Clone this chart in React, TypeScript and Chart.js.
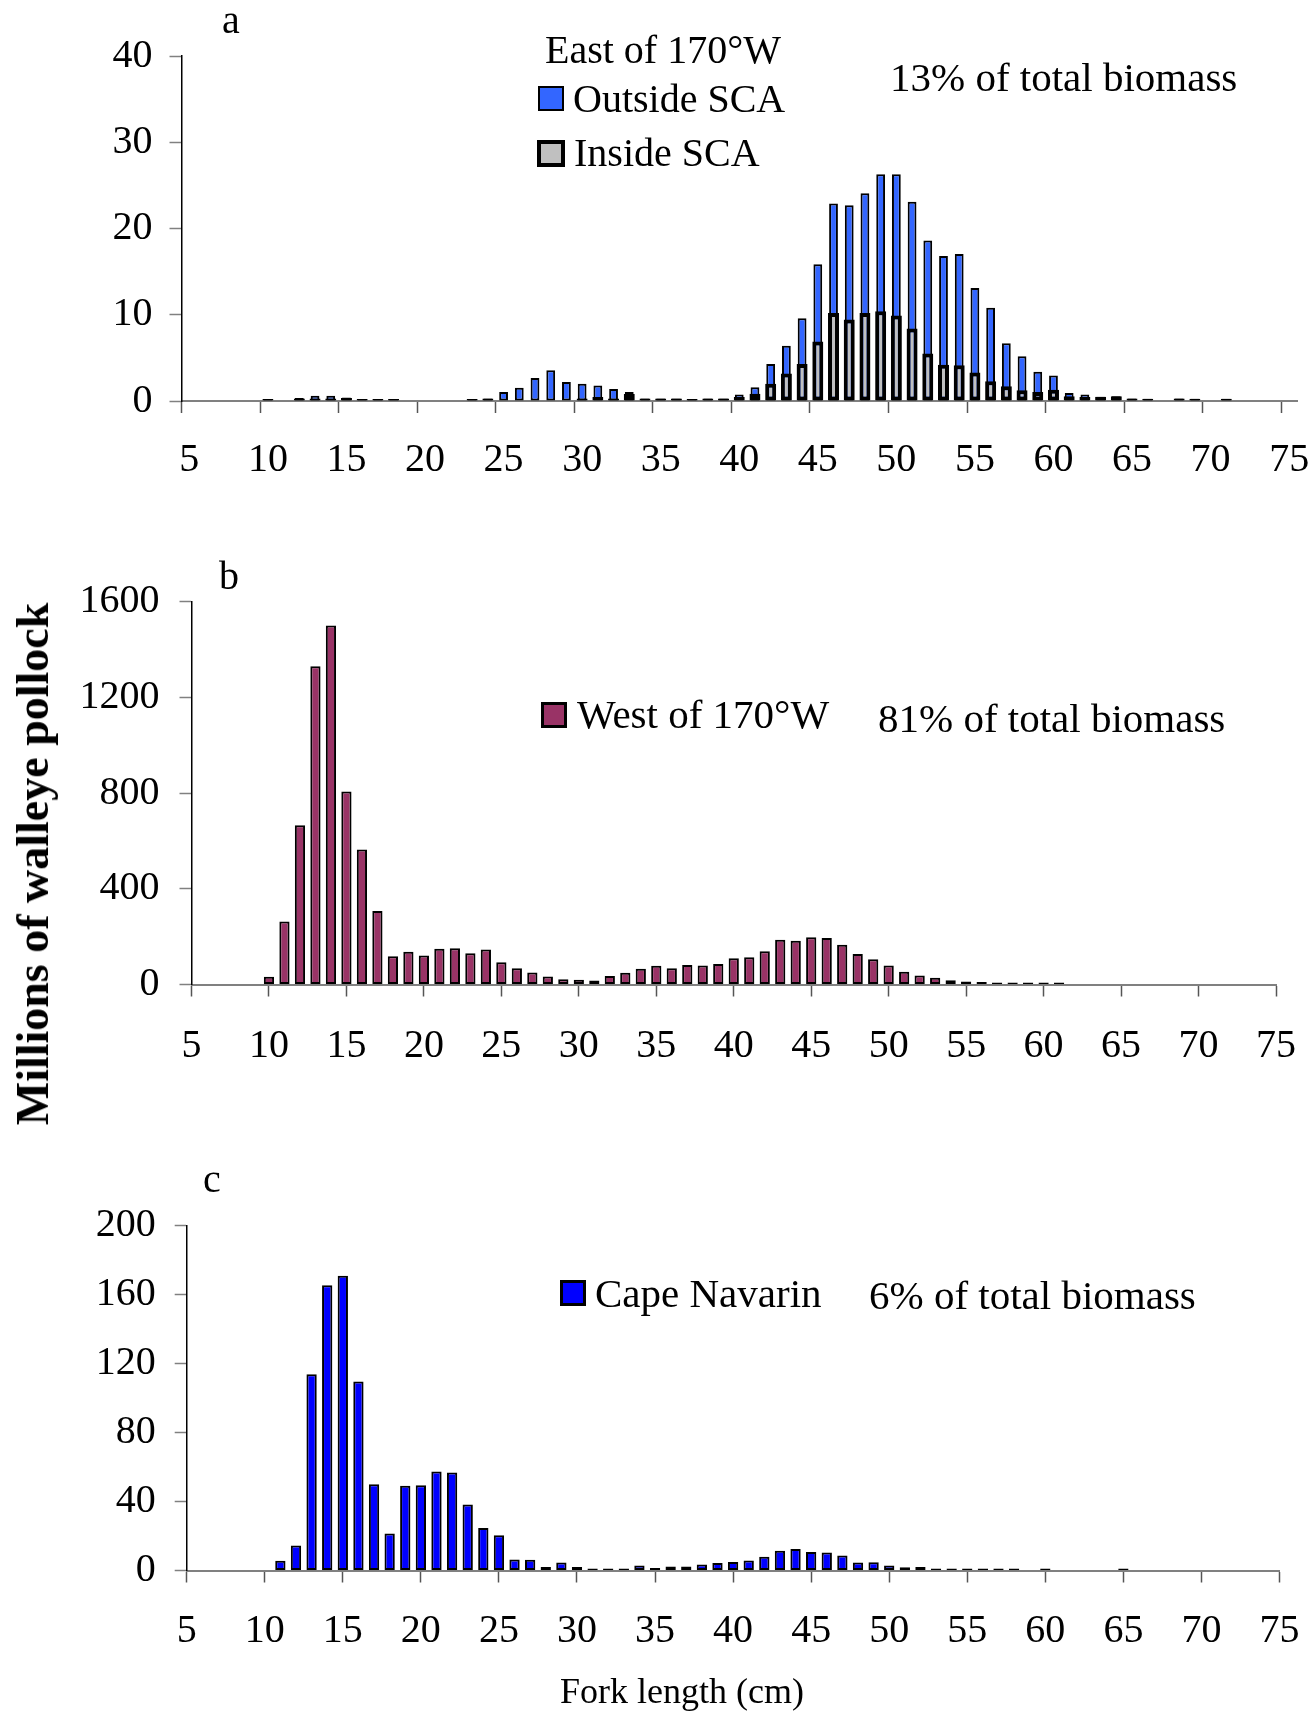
import React, { useEffect, useRef } from 'react';
import { Chart, registerables } from 'chart.js';

Chart.register(...registerables);

const FONT = "'Liberation Serif', 'Times New Roman', Times, serif";

// Fork length categories (cm) shown on every x axis
const xCategories = [
  5, 6, 7, 8, 9, 10, 11, 12, 13, 14, 15, 16, 17, 18, 19, 20, 21, 22, 23, 24, 25,
  26, 27, 28, 29, 30, 31, 32, 33, 34, 35, 36, 37, 38, 39, 40, 41, 42, 43, 44, 45,
  46, 47, 48, 49, 50, 51, 52, 53, 54, 55, 56, 57, 58, 59, 60, 61, 62, 63, 64, 65,
  66, 67, 68, 69, 70, 71, 72, 73, 74, 75,
];

// Panel a: East of 170°W
const aLengths = [
  10, 12, 13, 14, 15, 16, 17, 18, 23, 24, 25, 26, 27, 28, 29, 30, 31, 32, 33, 34, 35,
  36, 37, 38, 39, 40, 41, 42, 43, 44, 45, 46, 47, 48, 49, 50, 51, 52, 53, 54, 55, 56,
  57, 58, 59, 60, 61, 62, 63, 64, 65, 66, 68, 69, 71,
];
const aOutside = [
  0.15, 0.35, 0.6, 0.6, 0.4, 0.2, 0.15, 0.15, 0.15, 0.3, 1.05, 1.55, 2.67, 3.57, 2.2, 2.0, 1.8, 1.4, 1.05, 0.3, 0.3,
  0.3, 0.2, 0.3, 0.3, 0.75, 1.6, 4.3, 6.4, 9.6, 15.85, 22.9, 22.7, 24.1, 26.3, 26.3, 23.1, 18.6, 16.8, 17.05, 13.1, 10.8,
  6.7, 5.2, 3.4, 2.95, 0.93, 0.75, 0.5, 0.55, 0.3, 0.25, 0.3, 0.25, 0.25,
];
const aInside = [
  0.15, 0.3, 0.3, 0.3, 0.35, 0.2, 0.15, 0.15, 0.15, 0.3, null, null, null, null, null, 0.3, 0.45, 0.3, 0.8, 0.3, 0.3,
  0.3, 0.2, 0.3, 0.3, 0.45, 0.85, 2.0, 3.2, 4.3, 6.9, 10.2, 9.46, 10.2, 10.4, 9.9, 8.4, 5.5, 4.2, 4.15, 3.3, 2.3,
  1.7, 1.25, 1.05, 1.3, 0.55, 0.45, 0.5, 0.55, 0.3, 0.25, 0.3, 0.25, 0.25,
];

// Panel b: West of 170°W
const bLengths = [
  10, 11, 12, 13, 14, 15, 16, 17, 18, 19, 20, 21, 22, 23, 24, 25, 26, 27, 28, 29, 30,
  31, 32, 33, 34, 35, 36, 37, 38, 39, 40, 41, 42, 43, 44, 45, 46, 47, 48, 49, 50, 51,
  52, 53, 54, 55, 56, 57, 58, 59, 60, 61,
];
const bWest = [
  32, 263, 665, 1330, 1500, 806, 564, 307, 118, 137, 121, 149, 151, 131, 146, 93, 68, 50, 33, 22, 20,
  17, 36, 49, 66, 78, 68, 81, 79, 86, 110, 114, 139, 187, 183, 197, 194, 166, 127, 106, 79, 53,
  38, 28, 18, 13, 10, 8, 6, 5, 4, 3,
];

// Panel c: Cape Navarin
const cLengths = [
  11, 12, 13, 14, 15, 16, 17, 18, 19, 20, 21, 22, 23, 24, 25, 26, 27, 28, 29, 30, 31,
  32, 33, 34, 35, 36, 37, 38, 39, 40, 41, 42, 43, 44, 45, 46, 47, 48, 49, 50, 51, 52,
  53, 54, 55, 56, 57, 58, 60, 65,
];
const cNavarin = [
  5.6, 14.5, 113.8, 165.4, 171, 109.7, 50.1, 21.5, 49.1, 49.5, 57.4, 56.9, 38.3, 24.6, 20.5, 6.4, 6.2, 2.1, 4.6, 2.1, 0.6,
  0.6, 1.0, 2.9, 1.5, 2.3, 2.3, 3.5, 4.3, 5.0, 5.8, 8.0, 11.4, 12.4, 10.8, 10.4, 8.7, 4.6, 4.8, 2.9, 1.9, 2.1,
  1.2, 0.8, 0.4, 0.3, 0.3, 0.3, 0.2, 0.2,
];

// y-axis ranges / steps
const aYAxis = { min: 0, max: 40, step: 10 };
const bYAxis = { min: 0, max: 1600, step: 400 };
const cYAxis = { min: 0, max: 200, step: 40 };

const toPoints = (lengths: number[], values: (number | null)[]) =>
  lengths
    .map((l, i) => ({ x: String(l), y: values[i] }))
    .filter((p) => p.y !== null && p.y !== undefined);

type Geo = {
  canvasTop: number;
  canvasH: number;
  left: number;
  right: number;
  top: number;
  bottom: number;
  yPad: number;
  xPad: number;
};

function buildOptions(geo: Geo, yAxis: { min: number; max: number; step: number }, offset: boolean) {
  const tickFont = { family: FONT, size: 40 };
  return {
    responsive: false,
    animation: false as const,
    devicePixelRatio: 1,
    events: [],
    layout: {
      padding: {
        top: geo.top - geo.canvasTop,
        left: 0,
        right: 1313 - geo.right,
        bottom: 0,
      },
    },
    plugins: { legend: { display: false }, tooltip: { enabled: false } },
    scales: {
      x: {
        type: 'category',
        labels: xCategories.map(String),
        offset,
        grid: {
          display: true,
          drawOnChartArea: false,
          drawTicks: true,
          tickLength: 12,
          offset,
          tickWidth: 1.5,
          tickColor: (ctx: any) =>
            ctx.index !== undefined && ctx.index % 5 === 0 ? '#555555' : 'rgba(0,0,0,0)',
        },
        border: { display: true, color: '#808080', width: 2 },
        ticks: {
          autoSkip: false,
          maxRotation: 0,
          minRotation: 0,
          padding: geo.xPad,
          color: '#000000',
          font: tickFont,
          callback: (_v: any, index: number) => {
            const lab = xCategories[index];
            return lab % 5 === 0 ? String(lab) : '';
          },
        },
        afterFit: (s: any) => {
          s.height = geo.canvasH - (geo.bottom - geo.canvasTop);
          s.paddingLeft = 0;
          s.paddingRight = 0;
        },
      },
      y: {
        type: 'linear',
        min: yAxis.min,
        max: yAxis.max,
        ticks: {
          stepSize: yAxis.step,
          padding: geo.yPad,
          color: '#000000',
          font: tickFont,
          callback: (v: any) => String(v),
        },
        grid: {
          display: true,
          drawOnChartArea: false,
          drawTicks: true,
          tickLength: 12,
          tickColor: '#808080',
          tickWidth: 1.5,
        },
        border: { display: true, color: '#000000', width: 1.5 },
        afterFit: (s: any) => {
          s.width = geo.left;
          s.paddingTop = 0;
          s.paddingBottom = 0;
        },
      },
    },
  };
}

function ChartCanvas({ geo, makeConfig }: { geo: Geo; makeConfig: () => any }) {
  const ref = useRef<HTMLCanvasElement | null>(null);
  useEffect(() => {
    if (!ref.current) return;
    const chart = new Chart(ref.current, makeConfig());
    return () => chart.destroy();
  }, []);
  return (
    <canvas
      ref={ref}
      width={1313}
      height={geo.canvasH}
      style={{ position: 'absolute', left: 0, top: geo.canvasTop, width: 1313, height: geo.canvasH }}
    />
  );
}

const geoA: Geo = { canvasTop: 0, canvasH: 520, left: 181.5, right: 1297, top: 56, bottom: 401, yPad: 17, xPad: 23 };
const geoB: Geo = { canvasTop: 520, canvasH: 580, left: 191.5, right: 1276, top: 601.5, bottom: 984.5, yPad: 20, xPad: 26 };
const geoC: Geo = { canvasTop: 1140, canvasH: 572, left: 186.7, right: 1279.5, top: 1225.7, bottom: 1570.5, yPad: 19, xPad: 25 };

const configA = () => ({
  type: 'bar',
  data: {
    datasets: [
      {
        label: 'Outside SCA',
        data: toPoints(aLengths, aOutside),
        backgroundColor: '#3366FF',
        borderColor: '#000000',
        borderWidth: 2,
        borderSkipped: false,
        barPercentage: 0.56,
        categoryPercentage: 1,
        minBarLength: 2,
        grouped: false,
        order: 1,
      },
      {
        label: 'Inside SCA',
        data: toPoints(aLengths, aInside),
        backgroundColor: '#C0C0C0',
        borderColor: '#000000',
        borderWidth: 4,
        borderSkipped: false,
        barPercentage: 0.7,
        categoryPercentage: 1,
        minBarLength: 2,
        grouped: false,
        order: 0,
      },
    ],
  },
  options: buildOptions(geoA, aYAxis, true),
});

const configB = () => ({
  type: 'bar',
  data: {
    datasets: [
      {
        label: 'West of 170°W',
        data: toPoints(bLengths, bWest),
        backgroundColor: '#993366',
        borderColor: '#000000',
        borderWidth: 2,
        borderSkipped: false,
        barPercentage: 0.66,
        categoryPercentage: 1,
        minBarLength: 2,
      },
    ],
  },
  options: buildOptions(geoB, bYAxis, false),
});

const configC = () => ({
  type: 'bar',
  data: {
    datasets: [
      {
        label: 'Cape Navarin',
        data: toPoints(cLengths, cNavarin),
        backgroundColor: '#0000FF',
        borderColor: '#000000',
        borderWidth: 2,
        borderSkipped: false,
        barPercentage: 0.66,
        categoryPercentage: 1,
        minBarLength: 2,
      },
    ],
  },
  options: buildOptions(geoC, cYAxis, false),
});

function Txt({ left, top, size = 40, bold = false, children }: any) {
  return (
    <div
      style={{
        position: 'absolute',
        left,
        top,
        fontFamily: FONT,
        fontSize: size,
        fontWeight: bold ? 'bold' : 'normal',
        lineHeight: `${size}px`,
        whiteSpace: 'nowrap',
        color: '#000',
      }}
    >
      {children}
    </div>
  );
}

function Box({ left, top, w, h, border, color }: any) {
  return (
    <div
      style={{
        position: 'absolute',
        left,
        top,
        width: w,
        height: h,
        boxSizing: 'border-box',
        border: `${border}px solid #000`,
        background: color,
      }}
    />
  );
}

export default function App() {
  return (
    <div
      style={{
        position: 'absolute',
        left: 0,
        top: 0,
        width: 1313,
        height: 1712,
        background: '#ffffff',
        overflow: 'hidden',
      }}
    >
      <ChartCanvas geo={geoA} makeConfig={configA} />
      <ChartCanvas geo={geoB} makeConfig={configB} />
      <ChartCanvas geo={geoC} makeConfig={configC} />

      <Txt left={222} top={0}>a</Txt>
      <Txt left={545} top={30}>East of 170°W</Txt>
      <Box left={538} top={86} w={26} h={25} border={2} color="#3366FF" />
      <Txt left={573} top={79}>Outside SCA</Txt>
      <Box left={537} top={140} w={28} h={27} border={4} color="#C0C0C0" />
      <Txt left={574} top={133}>Inside SCA</Txt>
      <Txt left={890} top={57} size={41}>13% of total biomass</Txt>

      <Txt left={219} top={556}>b</Txt>
      <Box left={541} top={702} w={26} h={26} border={3} color="#993366" />
      <Txt left={577} top={694} size={41}>West of 170°W</Txt>
      <Txt left={878} top={698} size={41}>81% of total biomass</Txt>

      <Txt left={203} top={1159}>c</Txt>
      <Box left={560} top={1280} w={26} h={26} border={3} color="#0000FF" />
      <Txt left={595} top={1273} size={41}>Cape Navarin</Txt>
      <Txt left={869} top={1275} size={41}>6% of total biomass</Txt>

      <Txt left={560} top={1673} size={36}>Fork length (cm)</Txt>

      <div
        style={{
          position: 'absolute',
          left: 33,
          top: 864,
          transform: 'translate(-50%, -50%) rotate(-90deg)',
          fontFamily: FONT,
          fontSize: 46,
          fontWeight: 'bold',
          lineHeight: '46px',
          whiteSpace: 'nowrap',
          color: '#000',
        }}
      >
        Millions of walleye pollock
      </div>
    </div>
  );
}
